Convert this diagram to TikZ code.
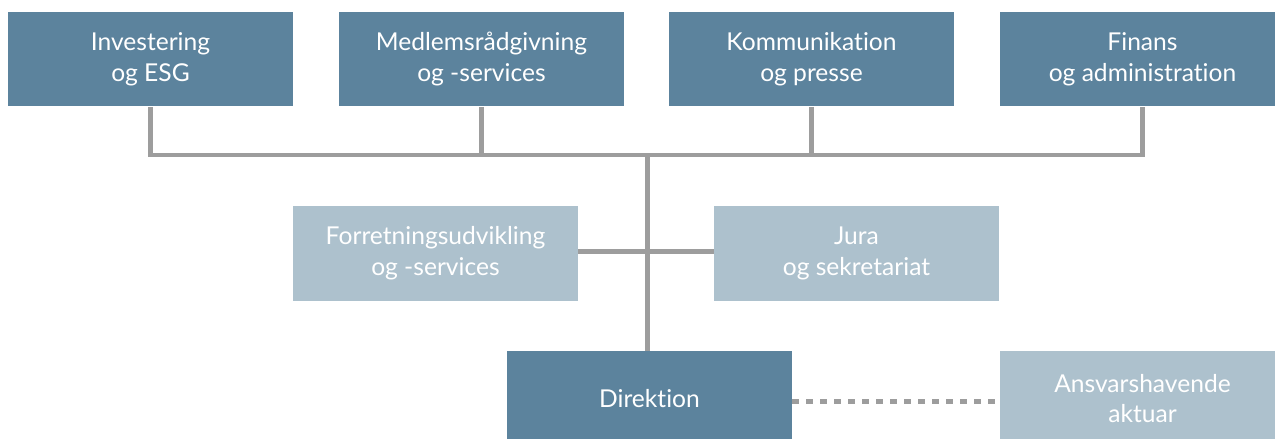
\documentclass[tikz,border=0pt]{standalone}
\usepackage{fontspec}
\setmainfont{Lato}[Ligatures={NoCommon}]
\usetikzlibrary{positioning}

\definecolor{darkbox}{HTML}{5C839D}
\definecolor{lightbox}{HTML}{ADC1CD}
\definecolor{linegray}{HTML}{9D9D9D}

\tikzset{
  unit/.style={fill=#1, text=white, minimum width=5.7cm, minimum height=1.9cm,
    inner sep=0pt, align=center, font=\fontsize{14}{17.6}\selectfont},
  link/.style={draw=linegray, line width=0.1cm},
  dotlink/.style={draw=linegray, line width=0.1cm, dash pattern=on 0.14cm off 0.14cm}
}

\begin{document}
\begin{tikzpicture}[x=0.02cm, y=-0.02cm]
\useasboundingbox (0,0) rectangle (1275,439);
\clip (0,0) rectangle (1275,439);

\node[unit=darkbox] (inv) at (150.5, 59) {Investering\\og ESG};
\node[unit=darkbox] (med) at (481.5, 59) {Medlemsrådgivning\\og -services};
\node[unit=darkbox] (kom) at (811.5, 59) {Kommunikation\\og presse};
\node[unit=darkbox] (fin) at (1142.5, 59) {Finans\\og administration};

\node[unit=lightbox] (forr) at (435.5, 253.5) {Forretningsudvikling\\og -services};
\node[unit=lightbox] (jura) at (856.5, 253.5) {Jura\\og sekretariat};

\node[unit=darkbox] (dir) at (649.5, 398.5) {Direktion};
\node[unit=lightbox] (akt) at (1142.5, 398.5) {Ansvarshavende\\aktuar};

\coordinate (bar) at (647, 155);
\coordinate (mid) at (647, 251);

\draw[link] (inv.south) |- (bar) -| (fin.south);
\draw[link] (med.south) -- (med.south |- bar);
\draw[link] (kom.south) -- (kom.south |- bar);
\draw[link] (bar) -- (bar |- dir.north);
\draw[link] (forr.east |- mid) -- (jura.west |- mid);

\draw[dotlink] ([yshift=-0.06cm]dir.east) -- ([yshift=-0.06cm]akt.west);

\end{tikzpicture}
\end{document}
